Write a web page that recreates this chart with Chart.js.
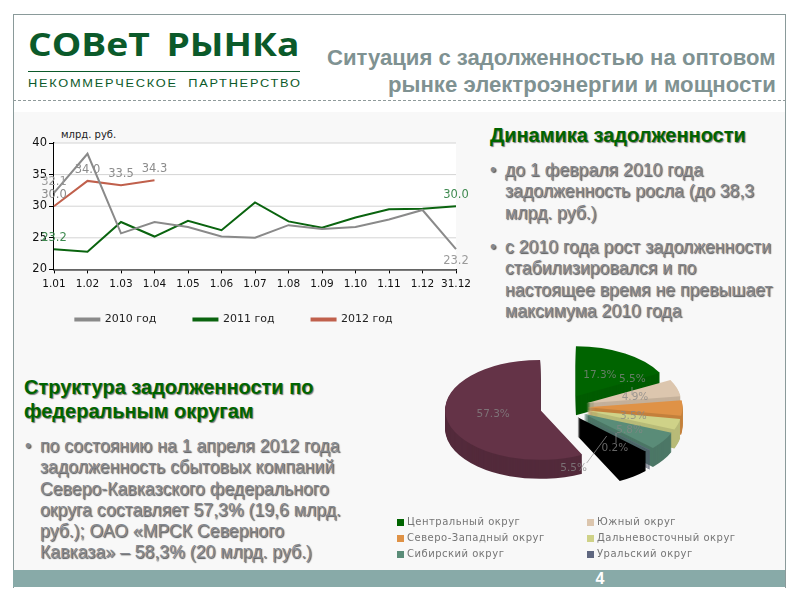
<!DOCTYPE html>
<html lang="ru"><head><meta charset="utf-8">
<script src="https://cdn.jsdelivr.net/npm/chart.js@4"></script>
<style>
html,body{margin:0;padding:0;background:#fff;width:800px;height:600px;overflow:hidden}
#frame{position:absolute;left:13px;top:14px;width:771px;height:573px;border:1px solid #8a9a9a;border-bottom:none;box-sizing:content-box}
#panel{position:absolute;left:14px;top:112px;width:771px;height:458px;background:#f8f8f8}
#dash{position:absolute;left:13px;top:100px;width:773px;border-top:1px dashed #8f9a9a}
#bar{position:absolute;left:13px;top:570px;width:772px;height:17px;background:#88aaa8}
#num{position:absolute;left:590px;top:570px;width:20px;text-align:center;font:bold 16px/18px "Liberation Sans";color:#fff}
.t{position:absolute;white-space:nowrap;font-family:"Liberation Sans"}
.fit{transform-origin:0 0}
.logo{color:#0b5a2a}
.title{font-weight:bold;font-size:22px;line-height:24px;color:#7f9292}
.h{font-weight:bold;font-size:20px;line-height:24px;color:#006400;text-shadow:1px 1px 1px #777}
.b{font-size:17.7px;line-height:21.3px;color:#85888e;text-shadow:1px 1px 1px #555}
canvas{position:absolute}
</style></head><body>
<div id="panel"></div><div id="frame"></div><div id="dash"></div><div id="bar"></div><div id="num">4</div>
<div class="t logo fit" data-w="272" style="left:28px;top:22px;font:bold 32px/44px 'Open Sans';word-spacing:6px">СОВеТ РЫНКа</div>
<div style="position:absolute;left:28px;top:71px;width:272px;border-top:1px solid #0b5a2a"></div>
<div class="t logo fit" data-w="274" style="left:28px;top:76px;font:11px/15px 'Liberation Sans';letter-spacing:1.5px">НЕКОММЕРЧЕСКОЕ&nbsp;&nbsp;ПАРТНЕРСТВО</div>
<div class="t title fit" data-w="449" style="left:327px;top:46px">Ситуация с задолженностью на оптовом</div>
<div class="t title fit" data-w="388" style="left:388px;top:73px">рынке электроэнергии и мощности</div>
<div class="t" style="left:61px;top:128px;font:10px/14px 'DejaVu Sans';color:#222">млрд. руб.</div>
<div class="t h" style="left:490px;top:123px">Динамика задолженности</div>
<div class="t b" style="left:490px;top:160px">•</div>
<div class="t b" style="left:505px;top:160px">до 1 февраля 2010 года<br>задолженность росла (до 38,3<br>млрд. руб.)</div>
<div class="t b" style="left:490px;top:237px">•</div>
<div class="t b" style="left:505px;top:237px">с 2010 года рост задолженности<br>стабилизировался и по<br>настоящее время не превышает<br>максимума 2010 года</div>
<div class="t h" style="left:24px;top:375px">Структура задолженности по<br>федеральным округам</div>
<div class="t b" style="left:25px;top:436px">•</div>
<div class="t b" style="left:40px;top:436px">по состоянию на 1 апреля 2012 года<br>задолженность сбытовых компаний<br>Северо-Кавказского федерального<br>округа составляет 57,3% (19,6 млрд.<br>руб.); ОАО «МРСК Северного<br>Кавказа» – 58,3% (20 млрд. руб.)</div>
<canvas id="line" width="496" height="238" style="left:0;top:120px;width:496px;height:238px"></canvas>
<canvas id="pie" width="400" height="230" style="left:390px;top:335px;width:400px;height:230px"></canvas>
<script>
const periods = ['1.01','1.02','1.03','1.04','1.05','1.06','1.07','1.08','1.09','1.10','1.11','1.12','31.12'];
const debt2010 = [32.1,38.3,25.7,27.5,26.7,25.2,25.0,27.0,26.4,26.7,27.9,29.4,23.2];
const debt2011 = [23.2,22.8,27.5,25.2,27.7,26.2,30.6,27.6,26.6,28.2,29.5,29.6,30.0];
const debt2012 = [30.0,34.0,33.3,34.1];
const labels2010 = ['32.1',,,,,,,,,,,,'23.2'];
const labels2011 = ['23.2',,,,,,,,,,,,'30.0'];
const labels2012 = ['30.0','34.0','33.5','34.3'];
const yTicks = [20,25,30,35,40];

const districts = ['Центральный округ','Южный округ','Северо-Западный округ','Дальневосточный округ','Сибирский округ','Уральский округ','Приволжский округ','Северо-Кавказский округ'];
const shares = [17.3,5.5,4.9,3.5,5.8,0.2,5.5,57.3];
const shareColors = ['#006400','#dcc6ae','#df9246','#cfd288','#5a8c78','#5f6780','#000000','#643347'];
const wallColors = ['#005c00','#c4b09a','#c4803c','#b8bb78','#4c7766','#50576c','#000000','#532a3b'];

document.querySelectorAll('.fit').forEach(e=>{e.style.transform='scaleX('+(e.dataset.w/e.offsetWidth)+')';});

Chart.defaults.animation=false;
Chart.defaults.font.family='"DejaVu Sans"';

const lineLabels={id:'lineLabels',
  afterLayout(c){c.legend.top-=19;c.legend.bottom-=19;c.legend.left+=6;c.legend.right+=6;},
  beforeDatasetsDraw(c){const a=c.chartArea,x=c.ctx;x.save();x.fillStyle='#fff';x.fillRect(a.left,a.top,a.width,a.height);
    x.strokeStyle='#d4d4d4';x.lineWidth=1;yTicks.slice(1).forEach(v=>{const y=c.scales.y.getPixelForValue(v);x.beginPath();x.moveTo(a.left,y);x.lineTo(a.right,y);x.stroke();});x.restore();},
  afterDatasetsDraw(c){const x=c.ctx;x.save();x.font='11.5px "DejaVu Sans"';x.textAlign='center';x.textBaseline='middle';
    c.data.datasets.forEach((d,i)=>{const m=c.getDatasetMeta(i);
      d.pointText.forEach((t,j)=>{if(!t)return;const p=m.data[j];const below=i===0&&j===12;
        x.fillStyle=d.textColor;x.fillText(t,p.x,p.y+(below?12:-11));});});
    x.restore();}};

new Chart(document.getElementById('line'),{type:'line',
 data:{labels:periods,datasets:[
  {label:'2010 год',data:debt2010,borderColor:'#8a8a8a',backgroundColor:'#8a8a8a',pointText:labels2010,textColor:'#9a9a9a'},
  {label:'2011 год',data:debt2011,borderColor:'#0a640f',backgroundColor:'#0a640f',pointText:labels2011,textColor:'#3f8a50'},
  {label:'2012 год',data:debt2012,borderColor:'#c0604c',backgroundColor:'#c0604c',pointText:labels2012,textColor:'#8c8c8c'}]},
 options:{responsive:false,devicePixelRatio:1,
  layout:{padding:{left:0,right:40,top:23,bottom:4}},
  elements:{point:{radius:0},line:{borderWidth:2,tension:0}},
  plugins:{tooltip:{enabled:false},
   legend:{position:'bottom',labels:{boxWidth:24,boxHeight:2,padding:37,color:'#222',font:{size:11}}}},
  scales:{
   x:{offset:false,grid:{drawOnChartArea:false,tickColor:'#000',tickLength:4},border:{color:'#000',width:1.5},
      ticks:{color:'#111',font:{size:10.5},autoSkip:false,maxRotation:0,padding:5}},
   y:{min:20,max:40,afterFit:s=>{s.width=54;},afterBuildTicks:s=>{s.ticks=yTicks.map(v=>({value:v}));},
      grid:{drawOnChartArea:false,tickColor:'#000',tickLength:5},border:{color:'#000',width:1.5},
      ticks:{color:'#111',font:{size:11.5},padding:2}}}},
 plugins:[lineLabels]});

const piePlace={cx:173.5,cy:72,explode:24,squash:0.526,depth:19};
const pieTextNudge=[[24,-21],[46,-24],[47.5,-10],[46.7,5.5],[46,16],[34,33],[-4,51],[-47,4]];
const pieLeaders=[null,[[632,387],[632,395]],null,null,null,[[616,433],[616,443]],[[606.7,436],[586.7,463]],null];
const legendCells=[[7,187.5],[197,187.5],[7,203.5],[197,203.5],[7,219.5],[197,219.5]];

const pie3d={id:'pie3d',
 beforeDatasetsDraw(c){
  const P=piePlace,x=c.ctx,arcs=c.getDatasetMeta(0).data;
  const centre=a=>{const mid=(a.startAngle+a.endAngle)/2;return [P.cx+Math.cos(mid)*P.explode,P.cy+Math.sin(mid)*P.explode*P.squash];};
  const paint=(a,col,dy)=>{const [cx,cy]=centre(a);const o=a.options;x.save();x.translate(cx,cy+dy);x.scale(1,P.squash);x.translate(-a.x,-a.y);
     a.options=Object.assign({},o,{backgroundColor:col});a.draw(x);a.options=o;x.restore();};
  // maroon sits on its own at the left; the rest stack from the back to the front
  [7,0,1,2,3,4,5,6].forEach(i=>{
    for(let d=P.depth;d>0;d--) paint(arcs[i],wallColors[i],d);
    paint(arcs[i],shareColors[i],0);
  });
  x.save();x.font='10.5px "DejaVu Sans"';x.textAlign='center';x.textBaseline='middle';
  x.strokeStyle='rgba(150,150,150,.9)';x.lineWidth=.8;
  pieLeaders.forEach(l=>{if(!l)return;x.beginPath();x.moveTo(l[0][0]-390,l[0][1]-335);x.lineTo(l[1][0]-390,l[1][1]-335);x.stroke();});
  arcs.forEach((a,i)=>{const [cx,cy]=centre(a);x.fillStyle='rgba(135,135,135,.75)';
    x.fillText(shares[i].toFixed(1)+'%',cx+pieTextNudge[i][0],cy+pieTextNudge[i][1]);});
  x.restore();
  // two-column key, first six districts
  x.save();x.font='10px "DejaVu Sans"';x.textBaseline='middle';x.textAlign='left';
  legendCells.forEach((p,i)=>{x.fillStyle=shareColors[i];x.fillRect(p[0],p[1]-3.5,7,7);
    x.fillStyle='#757575';x.letterSpacing='0.5px';x.fillText(districts[i],p[0]+10,p[1]);});
  x.restore();
  return false;
 }};

new Chart(document.getElementById('pie'),{type:'pie',
 data:{labels:districts,datasets:[{data:shares,backgroundColor:shareColors,borderWidth:0}]},
 options:{responsive:false,devicePixelRatio:1,radius:95,plugins:{legend:{display:false},tooltip:{enabled:false}}},
 plugins:[pie3d]});
</script></body></html>
